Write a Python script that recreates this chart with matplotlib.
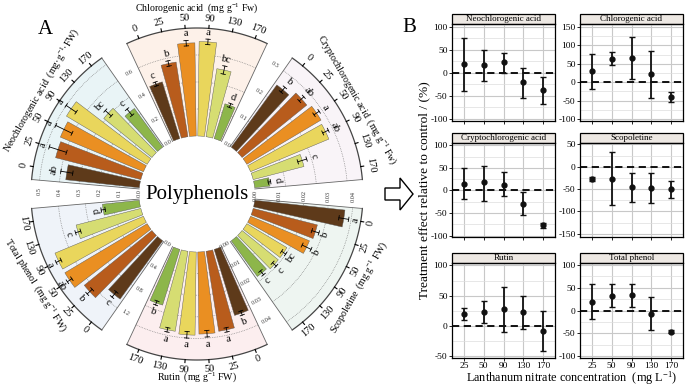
import numpy as np
import matplotlib.pyplot as plt
from matplotlib.patches import Rectangle, Circle, FancyArrow
from matplotlib.ticker import MultipleLocator

plt.rcParams['font.family'] = ['Liberation Serif', 'DejaVu Serif']
plt.rcParams['mathtext.fontset'] = 'custom'
plt.rcParams['mathtext.rm'] = 'Liberation Serif'
plt.rcParams['mathtext.it'] = 'Liberation Serif:italic'
plt.rcParams['axes.unicode_minus'] = False

# ----------------------------
# Data - panel A (content, mg g-1 FW)
# ----------------------------
conc = ["0", "25", "50", "90", "130", "170"]
bar_colors = ["#5E3A1A", "#B85C1C", "#EA8F22", "#E9D65C", "#D6DD72", "#8DB64A"]

neo_mean = [0.37, 0.44, 0.45, 0.47, 0.31, 0.24]
neo_err = [0.03, 0.045, 0.045, 0.03, 0.02, 0.02]
neo_let = ["ab", "a", "a", "a", "bc", "c"]

chl_mean = [0.44, 0.56, 0.69, 0.70, 0.51, 0.27]
chl_err = [0.015, 0.02, 0.02, 0.02, 0.03, 0.015]
chl_let = ["c", "b", "a", "a", "bc", "d"]

cry_mean = [0.25, 0.27, 0.28, 0.275, 0.17, 0.05]
cry_err = [0.01, 0.01, 0.01, 0.01, 0.015, 0.004]
cry_let = ["b", "ab", "a", "ab", "c", "d"]

sco_mean = [0.037, 0.027, 0.026, 0.019, 0.019, 0.018]
sco_err = [0.002, 0.0015, 0.002, 0.001, 0.001, 0.001]
sco_let = ["a", "b", "b", "bc", "c", "c"]

rut_mean = [0.032, 0.0375, 0.038, 0.0385, 0.0375, 0.027]
rut_err = [0.001, 0.001, 0.0015, 0.0015, 0.001, 0.001]
rut_let = ["b", "a", "a", "a", "a", "b"]

tph_mean = [1.07, 1.29, 1.42, 1.42, 0.99, 0.55]
tph_err = [0.05, 0.05, 0.04, 0.04, 0.04, 0.03]
tph_let = ["c", "b", "ab", "a", "c", "d"]

# ----------------------------
# Data - panel B (treatment effect, %)
# ----------------------------
b_conc = ["25", "50", "90", "130", "170"]

neo_eff = [18, 16, 22.5, -19.5, -38]
neo_lo = [-39, -17.5, 0, -55, -67]
neo_hi = [75, 49.5, 42, 11, -9]

chl_eff = [30, 63, 66, 22, -40]
chl_lo = [-17, 46, 8, -43, -54]
chl_hi = [78, 81, 122, 85, -27]

cry_eff = [15, 18, 13, -29, -77]
cry_lo = [-19.5, -23, -12, -54, -83]
cry_hi = [49, 54, 40, -4, -71.5]

sco_eff = [-27.4, -26.7, -46, -48, -49.6]
sco_lo = [-32, -85, -78, -81.5, -69]
sco_hi = [-22, 32.6, -15, -15, -31]

rut_eff = [19, 22.5, 27.5, 22.5, -8]
rut_lo = [10, 4.4, -9.3, -5, -41]
rut_hi = [29, 41, 64, 50, 25]

tph_eff = [19.6, 32.6, 34, -7, -46]
tph_lo = [-19, 8.7, 8.7, -43, -50]
tph_hi = [58, 57, 58.7, 30, -42]

W, H = 685, 386
fig = plt.figure(figsize=(W / 100, H / 100), dpi=100)


def tang_rot(deg):
    rot = deg - 90
    while rot <= -90:
        rot += 180
    while rot > 90:
        rot -= 180
    return rot


# ----------------------------
# Panel A - circular sectors
# ----------------------------
cx, cy, R = 197, 194, 166
r0 = 58
step = 8.2
bw = 6.6
half = 25

axA = fig.add_axes([(cx - R) / W, (H - cy - R) / H, 2 * R / W, 2 * R / H],
                   projection='polar')
axA.set_ylim(0, R)
axA.axis('off')

# title, sector centre, value at outer arc, radial labels, format, data, background,
# title angle, radius and rotation
sectors = [
    ("Neochlorogenic acid  (mg·g$^{-1}$·FW)", 150, 0.54, [0, 0.1, 0.2, 0.3, 0.4, 0.5], "{:.1f}",
     neo_mean, neo_err, neo_let, "#E9F4F6", 146.3, 187.5, 60),
    ("Chlorogenic acid  (mg g$^{-1}$ Fw)", 90, 0.8, [0, 0.2, 0.4, 0.6], "{:.1f}",
     chl_mean, chl_err, chl_let, "#FDF1E9", 90, 186, 0),
    ("Cryptochlorogenic acid  (mg g$^{-1}$ Fw)", 30, 0.35, [0, 0.1, 0.2, 0.3], "{:.1f}",
     cry_mean, cry_err, cry_let, "#F9F4F8", 30.5, 186, -60),
    ("Scopoletine  (mg g$^{-1}$ FW)", -30, 0.044, [0, 0.01, 0.02, 0.03, 0.04], "{:.2f}",
     sco_mean, sco_err, sco_let, "#EEF5F1", -30, 187, 60),
    ("Rutin  (mg g$^{-1}$ FW)", -90, 0.05, [0, 0.01, 0.02, 0.03, 0.04], "{:.2f}",
     rut_mean, rut_err, rut_let, "#FCEEEF", -90, 183, 0),
    ("Total phenol  (mg g$^{-1}$ FW)", -150, 1.6, [0, 0.4, 0.8, 1.2], "{:.1f}",
     tph_mean, tph_err, tph_let, "#EFF3F9", -150.5, 186, -58),
]

for title, c, vmax, rticks, fmt, means, errs, lets, bg, t_ang, t_r, t_rot in sectors:
    scale = (R - r0) / vmax
    th_deg = c + (2.5 - np.arange(6)) * step
    th = np.deg2rad(th_deg)
    arc = np.deg2rad(np.linspace(c - half, c + half, 80))

    # background
    axA.bar(np.deg2rad(c), R - r0, width=np.deg2rad(2 * half), bottom=r0,
            color=bg, edgecolor='none', zorder=0)
    # dotted gridlines
    for v in rticks[1:]:
        axA.plot(arc, np.full_like(arc, r0 + v * scale), ls=(0, (1, 1.5)),
                 color='#777777', lw=0.5, zorder=1)
    # outline
    axA.plot(arc, np.full_like(arc, R), color='#444444', lw=0.9, zorder=1, clip_on=False)
    for e in (c - half, c + half):
        axA.plot([np.deg2rad(e)] * 2, [r0, R], color='#666666', lw=0.6, zorder=1)

    # bars
    axA.bar(th, np.array(means) * scale, width=np.deg2rad(bw), bottom=r0,
            color=bar_colors, edgecolor='#555555', linewidth=0.3, zorder=2)

    # error bars and letters
    for t, td, m, e, lt in zip(th, th_deg, means, errs, lets):
        r1 = r0 + (m - e) * scale
        r2 = r0 + (m + e) * scale
        axA.plot([t, t], [r1, r2], color='k', lw=0.6, zorder=3)
        for rr in (r1, r2):
            dt = 2.2 / rr
            axA.plot([t - dt, t + dt], [rr, rr], color='k', lw=0.6, zorder=3)
        axA.text(t, r2 + 7, lt, rotation=tang_rot(td), ha='center', va='center',
                 fontsize=7.5, zorder=3)

    # outer concentration ticks
    for t, td, lab in zip(th, th_deg, conc):
        axA.plot([t, t], [R, R + 3], color='k', lw=0.8, clip_on=False)
        axA.text(t, R + 10, lab, rotation=tang_rot(td), ha='center', va='center',
                 fontsize=7.5)

    # radial value labels along the counter-clockwise edge
    lab_deg = c + half + 4
    for v in rticks:
        axA.text(np.deg2rad(lab_deg), r0 + v * scale, fmt.format(v),
                 rotation=tang_rot(lab_deg), ha='center', va='center',
                 fontsize=4.5, color='#333333')

    # sector title
    axA.text(np.deg2rad(t_ang), t_r, title, rotation=t_rot, ha='center',
             va='center', fontsize=7.1)

axA.add_patch(Circle((0.5, 0.5), 55 / (2 * R), transform=axA.transAxes,
                     facecolor='white', edgecolor='none', zorder=4))
axA.text(0.5, 0.5, "Polyphenols", transform=axA.transAxes, ha='center',
         va='center', fontsize=15, zorder=5)

fig.text(45 / W, 1 - 30 / H, "A", fontsize=15, ha='center', va='center')
fig.text(409 / W, 1 - 28 / H, "B", fontsize=15, ha='center', va='center')

# hollow arrow
fig.add_artist(FancyArrow(385 / W, 1 - 194 / H, 28 / W, 0, width=12 / H,
                          head_width=32 / H, head_length=13 / W,
                          length_includes_head=True, transform=fig.transFigure,
                          facecolor='white', edgecolor='black', lw=1.0))

# ----------------------------
# Panel B - effect plots
# ----------------------------
b_panels = [
    ("Neochlorogenic acid", neo_eff, neo_lo, neo_hi, (-105, 106), [-100, -50, 0, 50, 100]),
    ("Chlorogenic acid", chl_eff, chl_lo, chl_hi, (-105, 158), [-100, -50, 0, 50, 100, 150]),
    ("Cryptochlorogenic acid", cry_eff, cry_lo, cry_hi, (-103, 105), [-100, -50, 0, 50, 100]),
    ("Scopoletine", sco_eff, sco_lo, sco_hi, (-157, 53), [-150, -100, -50, 0, 50]),
    ("Rutin", rut_eff, rut_lo, rut_hi, (-53, 104), [-50, 0, 50, 100]),
    ("Total phenol", tph_eff, tph_lo, tph_hi, (-104, 104), [-100, -50, 0, 50, 100]),
]

col_x = [452, 580]
row_y = [(24, 121), (143, 237), (263, 358)]
pw = 103
strip_h = 10

x = np.arange(1, 6)
for k, (name, eff, lo, hi, ylim, yt) in enumerate(b_panels):
    row, col = divmod(k, 2)
    y_top, y_bot = row_y[row]
    ph = y_bot - y_top
    ax = fig.add_axes([col_x[col] / W, (H - y_bot) / H, pw / W, ph / H])

    eff = np.array(eff)
    yerr = [eff - np.array(lo), np.array(hi) - eff]
    ax.errorbar(x, eff, yerr=yerr, fmt='o', color='#111111', ms=3.5,
                capsize=2.5, elinewidth=1.3, capthick=1.0, zorder=4)
    ax.axhline(0, color='black', ls=(0, (4, 2.5)), lw=1.3, zorder=3)

    ax.set_xlim(0.4, 5.6)
    ax.set_ylim(*ylim)
    ax.set_yticks(yt)
    ax.yaxis.set_minor_locator(MultipleLocator(25))
    ax.set_xticks(x)
    if row == 2:
        ax.set_xticklabels(b_conc)
    else:
        ax.set_xticklabels([])
    ax.grid(which='major', color='#C8C8C8', lw=0.8, zorder=0)
    ax.grid(which='minor', axis='y', color='#DDDDDD', lw=0.5, zorder=0)
    ax.tick_params(which='both', length=2, width=0.6, labelsize=6.8, pad=1.2)
    ax.tick_params(which='minor', length=0)
    for s in ax.spines.values():
        s.set_linewidth(0.9)

    ax.add_patch(Rectangle((0, 1), 1, strip_h / ph, transform=ax.transAxes,
                           clip_on=False, facecolor='#EDE8E3', edgecolor='black', lw=0.9))
    ax.text(0.5, 1 + strip_h / ph / 2, name, transform=ax.transAxes,
            ha='center', va='center', fontsize=6.5)

fig.text(424 / W, 1 - 190 / H, "Treatment effect relative to control / (%)",
         rotation=90, ha='center', va='center', fontsize=9.6)
fig.text(572 / W, 1 - 382 / H, "Lanthanum nitrate concentration  (mg L$^{-1}$)",
         ha='center', va='baseline', fontsize=8.8)

fig.savefig("out.png", dpi=100)
